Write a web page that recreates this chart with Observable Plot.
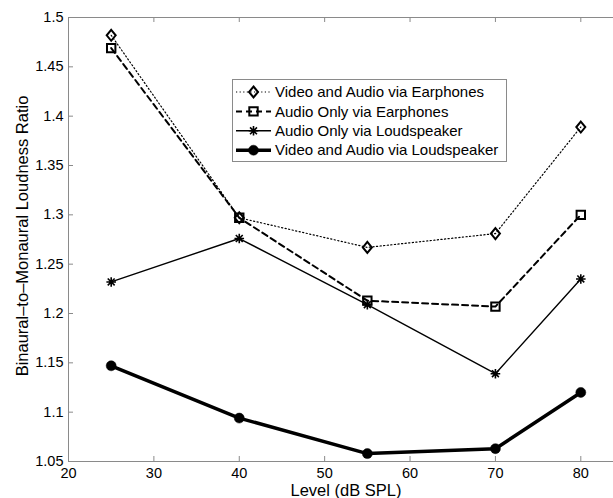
<!DOCTYPE html>
<html>
<head>
<meta charset="utf-8">
<script src="https://cdn.jsdelivr.net/npm/d3@7"></script>
<script src="https://cdn.jsdelivr.net/npm/@observablehq/plot@0.6"></script>
<style>
  html, body { margin: 0; padding: 0; background: white; }
  #chart { width: 613px; height: 498px; overflow: hidden; }
</style>
</head>
<body>
<div id="chart"></div>
<script>
// ---- data ----
const levels = [25, 40, 55, 70, 80];
const seriesNames = [
  "Video and Audio via Earphones",
  "Audio Only via Earphones",
  "Audio Only via Loudspeaker",
  "Video and Audio via Loudspeaker"
];
const videoAudioEarphones   = [1.482, 1.297, 1.267, 1.281, 1.389];
const audioOnlyEarphones    = [1.469, 1.297, 1.213, 1.207, 1.300];
const audioOnlyLoudspeaker  = [1.232, 1.276, 1.209, 1.139, 1.235];
const videoAudioLoudspeaker = [1.147, 1.094, 1.058, 1.063, 1.120];
const xTicks = [20, 30, 40, 50, 60, 70, 80];
const yTicks = [1.05, 1.1, 1.15, 1.2, 1.25, 1.3, 1.35, 1.4, 1.45, 1.5];
const xLabel = "Level (dB SPL)";
const yLabel = "Binaural\u2013to\u2013Monaural Loudness Ratio";

const seriesValues = [videoAudioEarphones, audioOnlyEarphones, audioOnlyLoudspeaker, videoAudioLoudspeaker];
const table = seriesNames.flatMap((name, i) =>
  levels.map((lv, j) => ({series: name, level: lv, ratio: seriesValues[i][j]})));

// ---- custom marker symbols ----
const diamondSym = {draw(ctx, size) {
  const r = Math.sqrt(size / Math.PI);
  const w = r * 0.9, h = r * 1.1;
  ctx.moveTo(0, -h); ctx.lineTo(w, 0); ctx.lineTo(0, h); ctx.lineTo(-w, 0); ctx.closePath();
}};
const squareSym = {draw(ctx, size) {
  const r = Math.sqrt(size / Math.PI);
  ctx.rect(-r, -r, 2 * r, 2 * r);
}};
const starSym = {draw(ctx, size) {
  const r = Math.sqrt(size / Math.PI);
  const d = r * 0.72;
  ctx.moveTo(-r, 0); ctx.lineTo(r, 0);
  ctx.moveTo(0, -r); ctx.lineTo(0, r);
  ctx.moveTo(-d, -d); ctx.lineTo(d, d);
  ctx.moveTo(-d, d); ctx.lineTo(d, -d);
}};
const circleSym = {draw(ctx, size) {
  const r = Math.sqrt(size / Math.PI);
  ctx.moveTo(r, 0); ctx.arc(0, 0, r, 0, 2 * Math.PI);
}};

const styles = [
  {line: {strokeWidth: 1.2, strokeDasharray: "1.2,2.4"}, dot: {symbol: diamondSym, r: 5, fill: "none", stroke: "black", strokeWidth: 2}},
  {line: {strokeWidth: 2, strokeDasharray: "6,4"}, dot: {symbol: squareSym, r: 4.2, fill: "none", stroke: "black", strokeWidth: 2}},
  {line: {strokeWidth: 1.4}, dot: {symbol: starSym, r: 4.8, fill: "none", stroke: "black", strokeWidth: 1.6}},
  {line: {strokeWidth: 3.5}, dot: {symbol: circleSym, r: 5, fill: "black", stroke: "black", strokeWidth: 0.5}}
];

// ---- layout ----
const W = 613, H = 498, mL = 68, mT = 17, mB = 37, mR = -10;
const frameH = H - mT - mB;
const frameW = W - mL - mR;
const axisGray = "#8a8a8a";

const marks = [
  Plot.ruleY([1.05, 1.5], {stroke: axisGray, strokeWidth: 1}),
  Plot.ruleX([20], {stroke: axisGray, strokeWidth: 1}),
  Plot.ruleX(xTicks, {stroke: axisGray, insetTop: frameH - 5}),
  Plot.ruleX(xTicks, {stroke: axisGray, insetBottom: frameH - 5}),
  Plot.ruleY(yTicks, {stroke: axisGray, insetRight: frameW - 5}),
  Plot.axisX({ticks: xTicks, tickSize: 0, tickPadding: 6, label: null, fontSize: 14.5}),
  Plot.axisY({ticks: yTicks, tickSize: 0, tickPadding: 5, label: null, fontSize: 14.5,
    tickFormat: d => String(+d.toFixed(2))}),
  Plot.text([xLabel], {frameAnchor: "bottom", dy: 29, lineAnchor: "middle", textAnchor: "middle", fontSize: 16.5}),
  Plot.text([yLabel], {frameAnchor: "left", dx: -46, dy: -3.5, rotate: -90, lineAnchor: "middle", textAnchor: "middle", fontSize: 16.5})
];
seriesNames.forEach((name, i) => {
  const sub = table.filter(d => d.series === name);
  marks.push(Plot.line(sub, {x: "level", y: "ratio", stroke: "black", ...styles[i].line}));
  marks.push(Plot.dot(sub, {x: "level", y: "ratio", ...styles[i].dot}));
});

const chart = Plot.plot({
  width: W, height: H,
  marginLeft: mL, marginRight: mR, marginTop: mT, marginBottom: mB,
  x: {domain: [20, 85]},
  y: {domain: [1.05, 1.5]},
  style: {fontFamily: "'Liberation Sans', Arial, Helvetica, sans-serif", color: "black", background: "white", overflow: "hidden"},
  marks
});

// ---- legend (inside the plot, top-middle) ----
const svg = d3.select(chart);
const lg = svg.append("g").attr("class", "legend");
const bx = 232.5, by = 79.5, bw = 274, bh = 82;
lg.append("rect").attr("x", bx).attr("y", by).attr("width", bw).attr("height", bh)
  .attr("fill", "white").attr("stroke", axisGray).attr("stroke-width", 1);
seriesNames.forEach((name, i) => {
  const yy = by + 12.5 + i * 19.4;
  const st = styles[i];
  lg.append("line").attr("x1", 236).attr("x2", 271).attr("y1", yy).attr("y2", yy)
    .attr("stroke", "black").attr("stroke-width", st.line.strokeWidth)
    .attr("stroke-dasharray", st.line.strokeDasharray || null);
  const sz = Math.PI * st.dot.r * st.dot.r;
  lg.append("path").attr("d", d3.symbol(st.dot.symbol, sz)())
    .attr("transform", `translate(253.5,${yy})`)
    .attr("fill", st.dot.fill).attr("stroke", st.dot.stroke).attr("stroke-width", st.dot.strokeWidth);
  lg.append("text").attr("x", 275).attr("y", yy).attr("dy", "0.35em")
    .attr("text-anchor", "start")
    .attr("font-size", 15).attr("fill", "black").text(name);
});

document.getElementById("chart").appendChild(chart);
</script>
</body>
</html>
